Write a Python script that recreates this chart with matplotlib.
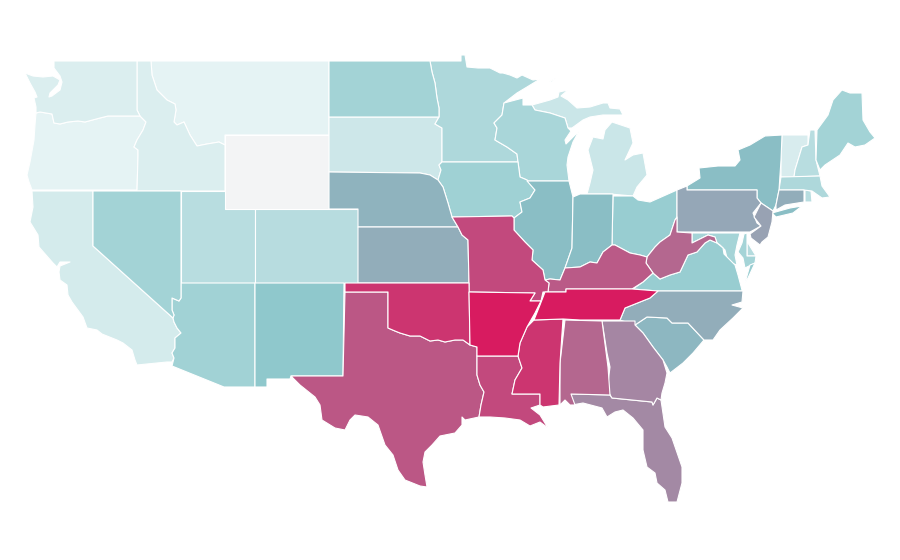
import matplotlib
matplotlib.use("Agg")
import matplotlib.pyplot as plt
from matplotlib.collections import PolyCollection
from matplotlib.colors import LinearSegmentedColormap

# relative rate per state, 0 = lowest, 1 = highest
states = ["WY", "MT", "OR", "ID", "WA", "VT", "CA", "SD", "MI", "UT", "CO", "NH", "RI", "DE", "MN", "WI",
          "AZ", "ME", "NV", "MA", "ND", "IA", "MD", "OH", "VA", "NM", "IL", "IN", "NY", "SC", "NE",
          "NC", "KS", "CT", "PA", "NJ", "FL", "GA", "AL", "WV", "TX", "KY", "LA", "MO", "OK", "MS",
          "AR", "TN"]
rates = [0.00, 0.065, 0.065, 0.12, 0.12, 0.13, 0.15, 0.185, 0.20, 0.29, 0.30, 0.29, 0.29, 0.31, 0.34, 0.37,
         0.41, 0.40, 0.40, 0.34, 0.40, 0.42, 0.39, 0.455, 0.455, 0.50, 0.53, 0.53, 0.53, 0.55, 0.56,
         0.58, 0.58, 0.58, 0.595, 0.61, 0.68, 0.69, 0.78, 0.78, 0.825, 0.82, 0.865, 0.865, 0.925, 0.925,
         1.00, 1.00]

color_stops = [(0.0, "#f3f4f5"), (0.05, "#e8f4f5"), (0.5, "#8fc9cd"), (0.53, "#8abec5"), (1.0, "#d81b60")]

# state outlines in map units
shapes = {
    "WA": [[(54,61),(137,61),(137,110),(140,116),(108,116),(100,118),(85,122),(78,121),(68,122),(60,124),(54,123),(52,114),(40,112),(36,113),(36,107),(34,98),(37,97),(35,92),(30,83),(25,73),(33,76),(43,77),(53,76),(60,80),(58,85),(50,93),(49,97),(52,96),(60,90),(62,82),(60,76),(57,72),(54,68)]],
    "OR": [[(36,113),(40,112),(52,114),(54,123),(60,124),(68,122),(78,121),(85,122),(100,118),(108,116),(140,116),(146,122),(143,130),(137,140),(134,147),(138,150),(138,156),(137,190),(32,190),(29,182),(27,175),(30,162),(34,140),(35,125)]],
    "CA": [[(32,191),(93,191),(93,246),(173,318),(174,322),(177,328),(181,333),(175,338),(175,348),(172,353),(174,358),(172,362),(167,362),(137,365),(135,360),(132,350),(123,343),(117,340),(102,334),(97,330),(87,328),(83,317),(72,302),(68,295),(67,285),(60,280),(59,272),(60,266),(70,262),(60,262),(57,267),(53,263),(39,247),(38,235),(30,222),(33,207)]],
    "NV": [[(93,191),(181,191),(181,298),(179,301),(172,298),(172,310),(174,315),(173,318),(93,246)]],
    "UT": [[(181,191),(225,191),(225,209),(255,209),(255,283),(181,283)]],
    "CO": [[(255,209),(358,209),(358,283),(255,283)]],
    "WY": [[(225,135),(329,135),(329,209),(225,209)]],
    "ID": [[(137,61),(151,61),(152,75),(157,90),(167,100),(175,104),(176,110),(174,122),(177,125),(184,122),(190,135),(197,146),(207,144),(219,142),(225,145),(225,191),(137,191),(138,156),(138,150),(134,147),(137,140),(143,130),(146,122),(140,116),(137,110)]],
    "MT": [[(151,61),(329,61),(329,135),(225,135),(225,145),(219,142),(207,144),(197,146),(190,135),(184,122),(177,125),(174,122),(176,110),(175,104),(167,100),(157,90),(152,75)]],
    "ND": [[(329,61),(430,61),(432,72),(435,83),(437,98),(439,108),(439,117),(329,117)]],
    "SD": [[(329,117),(439,117),(435,124),(442,128),(442,162),(439,165),(441,170),(438,180),(430,175),(420,173),(329,172)]],
    "NE": [[(329,172),(420,173),(430,175),(438,180),(443,187),(448,203),(452,217),(458,227),(358,227),(358,209),(329,209)]],
    "KS": [[(358,227),(458,227),(462,235),(468,240),(469,283),(358,283)]],
    "OK": [[(345,283),(469,283),(470,345),(463,340),(455,340),(445,342),(438,340),(430,341),(420,336),(410,336),(400,333),(395,331),(388,328),(388,292),(345,292)]],
    "TX": [[(345,292),(388,292),(388,328),(395,331),(400,333),(410,336),(420,336),(430,341),(438,340),(445,342),(455,340),(463,340),(470,345),(477,347),(477,375),(480,385),(484,392),(481,405),(479,417),(465,420),(462,417),(462,425),(455,433),(440,436),(432,445),(425,452),(423,462),(425,475),(427,487),(420,486),(405,480),(398,470),(393,455),(385,445),(378,425),(368,417),(355,415),(350,420),(345,430),(335,428),(322,420),(320,405),(315,397),(300,385),(291,376),(343,376)]],
    "NM": [[(255,283),(344,283),(343,376),(291,376),(290,379),(267,379),(267,387),(255,387)]],
    "AZ": [[(181,283),(255,283),(255,387),(224,387),(172,366),(174,358),(172,353),(175,348),(175,338),(181,333),(177,328),(174,322),(173,318),(174,315),(172,310),(172,298),(179,301),(181,298)]],
    "MN": [[(430,61),(461,61),(461,55),(465,55),(467,67),(478,68),(490,68),(500,73),(503,73),(510,75),(517,78),(522,75),(533,80),(540,79),(527,87),(517,93),(504,103),(502,115),(494,123),(497,128),(495,140),(507,147),(517,154),(518,162),(442,162),(442,128),(435,124),(439,117),(439,108),(437,98),(435,83),(432,72)]],
    "IA": [[(442,162),(518,162),(520,177),(527,180),(535,190),(530,198),(520,202),(522,212),(514,218),(512,216),(452,217),(448,203),(443,187),(438,180),(441,170),(439,165)]],
    "WI": [[(504,103),(523,98),(523,105),(532,105),(535,110),(550,113),(565,118),(568,128),(571,131),(565,140),(566,144),(572,138),(579,131),(573,142),(568,157),(567,165),(569,181),(527,181),(527,180),(520,177),(518,162),(517,154),(507,147),(495,140),(497,128),(494,123),(502,115)]],
    "MI": [[(532,105),(550,100),(558,97),(559,92),(568,90),(561,96),(568,100),(577,108),(590,107),(603,103),(608,103),(610,108),(620,109),(623,115),(613,115),(603,115),(590,117),(583,120),(572,128),(568,128),(565,118),(550,113),(535,110)],
           [(587,194),(610,194),(633,196),(637,187),(647,175),(643,153),(633,155),(625,160),(633,143),(630,128),(612,122),(605,130),(603,139),(593,137),(588,150),(593,170),(590,183)],
           [(549,82),(556,78),(552,82)]],
    "IL": [[(527,181),(569,181),(573,197),(572,248),(565,268),(560,280),(550,279),(545,280),(543,270),(532,260),(533,250),(525,242),(514,230),(514,218),(522,212),(520,202),(530,198),(535,190)]],
    "IN": [[(573,197),(580,194),(613,194),(612,245),(603,252),(597,263),(590,262),(580,267),(565,268),(572,248)]],
    "OH": [[(613,196),(633,196),(638,200),(650,202),(677,190),(677,217),(675,220),(670,235),(660,242),(655,247),(647,257),(640,255),(630,253),(615,245),(612,245)]],
    "KY": [[(612,245),(615,245),(630,253),(640,255),(647,257),(646,263),(653,273),(643,282),(632,289),(566,289),(566,292),(548,292),(549,283),(545,280),(550,279),(560,280),(565,268),(580,267),(590,262),(597,263),(603,252)]],
    "WV": [[(677,217),(677,232),(692,233),(692,243),(708,235),(715,237),(717,243),(710,240),(705,243),(697,252),(688,255),(680,272),(670,275),(660,279),(653,273),(646,263),(647,257),(655,247),(660,242),(670,235),(675,220)]],
    "PA": [[(677,190),(687,186),(687,190),(757,190),(757,198),(761,203),(753,213),(757,223),(761,226),(750,232),(677,232)]],
    "NJ": [[(761,203),(773,211),(772,222),(768,237),(762,242),(760,245),(751,238),(750,234),(761,226),(754,217)]],
    "NY": [[(687,190),(687,186),(700,178),(699,168),(718,166),(735,166),(740,160),(738,150),(750,145),(765,136),(782,135),(781,160),(779,190),(776,205),(773,211),(761,203),(757,198),(757,190)],
           [(772,213),(790,208),(802,206),(793,213),(776,217)]],
    "CT": [[(779,190),(804,190),(804,202),(785,205),(776,210),(776,205)]],
    "MA": [[(781,177),(820,176),(822,186),(830,197),(822,198),(812,191),(804,190),(779,190)]],
    "RI": [[(805,190),(811,191),(812,202),(805,202)]],
    "VT": [[(782,135),(808,135),(808,145),(802,147),(795,170),(794,177),(781,177),(781,160)]],
    "NH": [[(810,130),(815,130),(816,160),(820,176),(794,177),(795,170),(802,147),(808,145)]],
    "ME": [[(817,130),(828,115),(833,100),(842,90),(850,93),(862,93),(863,120),(870,132),(875,138),(865,145),(855,147),(848,143),(840,155),(825,165),(820,170),(816,160)]],
    "MD": [[(692,233),(740,233),(737,245),(735,255),(737,265),(728,262),(725,250),(720,245),(717,243),(715,237),(708,235),(692,243)],
           [(744,234),(747,233),(747,256),(756,256),(755,263),(745,268),(743,258),(738,252),(742,243)]],
    "DE": [[(747,233),(748,243),(756,256),(747,256)]],
    "VA": [[(633,289),(643,282),(653,273),(660,279),(670,275),(680,272),(688,255),(697,252),(705,243),(710,240),(717,243),(723,248),(724,254),(735,265),(738,275),(742,290),(743,291),(658,291)],
           [(750,265),(755,263),(748,278),(745,283)]],
    "TN": [[(545,292),(566,292),(566,289),(632,289),(658,291),(650,298),(640,302),(625,308),(620,320),(580,320),(563,319),(534,320),(540,305)]],
    "AR": [[(469,292),(535,293),(530,301),(541,301),(535,313),(527,327),(520,343),(518,356),(477,356),(477,347),(470,345)]],
    "MO": [[(452,217),(512,216),(514,218),(514,230),(525,242),(533,250),(532,260),(543,270),(545,280),(549,283),(548,292),(543,292),(541,301),(530,301),(535,293),(469,292),(469,283),(468,240),(462,235),(458,227)]],
    "LA": [[(477,356),(518,356),(522,368),(515,380),(512,394),(540,394),(540,405),(531,408),(540,415),(548,428),(540,422),(530,426),(520,420),(505,418),(490,417),(479,417),(481,405),(484,392),(480,385),(477,375)]],
    "MS": [[(534,320),(563,319),(560,363),(559,405),(543,407),(540,405),(540,394),(512,394),(515,380),(522,368),(518,356),(520,343),(527,327)]],
    "AL": [[(565,320),(602,321),(608,367),(610,395),(571,394),(575,405),(570,405),(565,400),(560,405),(560,363)]],
    "GA": [[(602,321),(635,321),(635,325),(643,333),(653,347),(663,360),(667,373),(665,383),(662,393),(661,400),(657,398),(653,405),(652,402),(612,398),(609,393),(608,383),(610,367),(607,353)]],
    "FL": [[(571,394),(610,395),(612,398),(652,402),(653,405),(657,398),(661,400),(665,427),(672,438),(682,467),(682,483),(677,502),(668,502),(665,490),(657,483),(655,473),(647,467),(643,450),(643,430),(633,418),(623,410),(615,412),(607,417),(602,408),(583,403),(572,405)]],
    "SC": [[(635,325),(647,317),(667,318),(672,323),(688,323),(704,340),(693,353),(683,363),(670,373),(667,367),(663,360),(653,347),(643,333)]],
    "NC": [[(658,291),(743,291),(742,302),(732,305),(743,308),(733,318),(720,330),(713,340),(704,340),(688,323),(672,323),(667,318),(647,317),(635,325),(620,320),(625,308),(640,302),(650,298)]],
}

cmap = LinearSegmentedColormap.from_list("rate", color_stops)

polys = []
values = []
for name, rate in zip(states, rates):
    for ring in shapes[name]:
        polys.append(ring)
        values.append(rate)

fig = plt.figure(figsize=(9, 5.6), dpi=100)
ax = fig.add_axes([0, 0, 1, 1])
coll = PolyCollection(polys, array=values, cmap=cmap, edgecolors="white", linewidths=0.8)
coll.set_clim(0, 1)
ax.add_collection(coll)
ax.set_xlim(0, 900)
ax.set_ylim(560, 0)
ax.axis("off")

fig.savefig("out.png", dpi=100)
plt.close(fig)
